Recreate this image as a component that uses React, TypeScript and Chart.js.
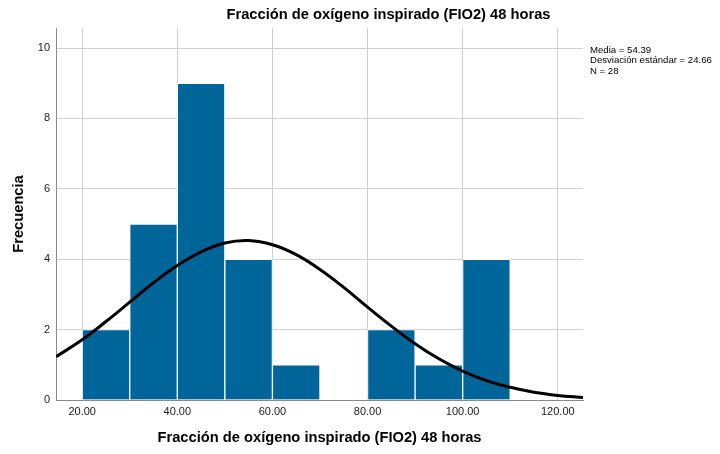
import { useEffect, useRef } from "react";
import { Chart, registerables } from "chart.js";

Chart.register(...registerables);

const binCenters = [25, 35, 45, 55, 65, 75, 85, 95, 105];
const frequencies = [2, 5, 9, 4, 1, 0, 2, 1, 4];
const curveX = [14.5, 20, 25, 30, 35, 40, 45, 50, 55, 60, 65, 70, 75, 80, 85, 90, 95, 100, 105, 110, 115, 120, 125.3];
const curveY = [1.23, 1.71, 2.23, 2.78, 3.33, 3.82, 4.21, 4.46, 4.53, 4.41, 4.13, 3.71, 3.2, 2.64, 2.1, 1.6, 1.17, 0.82, 0.55, 0.36, 0.22, 0.13, 0.07];
const xTicks = [20, 40, 60, 80, 100, 120];
const yTicks = [0, 2, 4, 6, 8, 10];
const statsLines = ["Media = 54.39", "Desviación estándar = 24.66", "N = 28"];
const chartTitle = "Fracción de oxígeno inspirado (FIO2) 48 horas";
const xTitle = "Fracción de oxígeno inspirado (FIO2) 48 horas";
const yTitle = "Frecuencia";

const FONT = "'Liberation Sans', Arial, sans-serif";

const textPlugin = {
  id: "texts",
  afterDraw(chart: any) {
    const ctx = chart.ctx;
    const a = chart.chartArea;
    ctx.save();
    ctx.fillStyle = "#000";
    ctx.textAlign = "center";
    ctx.textBaseline = "middle";
    ctx.font = `bold 14.7px ${FONT}`;
    ctx.fillText(chartTitle, 388.5, 15);
    ctx.fillText(xTitle, (a.left + a.right) / 2, 438);
    ctx.save();
    ctx.translate(19, (a.top + a.bottom) / 2);
    ctx.rotate(-Math.PI / 2);
    ctx.fillText(yTitle, 0, 0);
    ctx.restore();
    ctx.textAlign = "left";
    ctx.font = `9.6px ${FONT}`;
    statsLines.forEach((s, i) => ctx.fillText(s, a.right + 7, 50 + i * 10.8));
    ctx.restore();
  },
};

export default function App() {
  const ref = useRef<HTMLCanvasElement>(null);
  useEffect(() => {
    if (!ref.current) return;
    const chart = new Chart(ref.current, {
      type: "bar",
      data: {
        datasets: [
          {
            type: "line",
            data: curveX.map((x, i) => ({ x, y: curveY[i] })),
            borderColor: "#000",
            borderWidth: 3,
            pointRadius: 0,
            tension: 0.4,
            order: 0,
          } as any,
          {
            type: "bar",
            data: binCenters.map((x, i) => ({ x, y: frequencies[i] })),
            backgroundColor: "#00669a",
            borderColor: "#ffffff",
            borderWidth: 1,
            barPercentage: 1,
            categoryPercentage: 1,
            grouped: false,
            order: 1,
          } as any,
        ],
      },
      options: {
        animation: false,
        responsive: false,
        layout: { padding: { left: 0, right: 137, top: 28, bottom: 0 } },
        plugins: { legend: { display: false }, tooltip: { enabled: false }, title: { display: false } },
        scales: {
          x: {
            type: "linear",
            min: 14.5,
            max: 125.3,
            offset: false,
            grid: { color: "#cfcfcf", lineWidth: 1, drawTicks: false, offset: false },
            border: { color: "#8a8a8a", width: 1 },
            ticks: {
              padding: 5,
              color: "#222",
              font: { family: FONT, size: 11 },
              callback: (v: any) => Number(v).toFixed(2),
            },
            afterBuildTicks: (s: any) => {
              s.ticks = xTicks.map((v) => ({ value: v }));
            },
            afterFit: (s: any) => {
              s.height = 54;
            },
          },
          y: {
            type: "linear",
            min: 0,
            max: 10.57,
            grid: { color: "#cfcfcf", lineWidth: 1, drawTicks: false },
            border: { color: "#8a8a8a", width: 1 },
            ticks: {
              padding: 6,
              color: "#222",
              font: { family: FONT, size: 11 },
            },
            afterBuildTicks: (s: any) => {
              s.ticks = yTicks.map((v) => ({ value: v }));
            },
            afterFit: (s: any) => {
              s.width = 56;
            },
          },
        },
      } as any,
      plugins: [textPlugin],
    });
    return () => chart.destroy();
  }, []);
  return (
    <div style={{ position: "fixed", left: 0, top: 0, width: 720, height: 454, background: "#fff" }}>
      <canvas ref={ref} width={720} height={454} style={{ width: 720, height: 454, display: "block" }} />
    </div>
  );
}
